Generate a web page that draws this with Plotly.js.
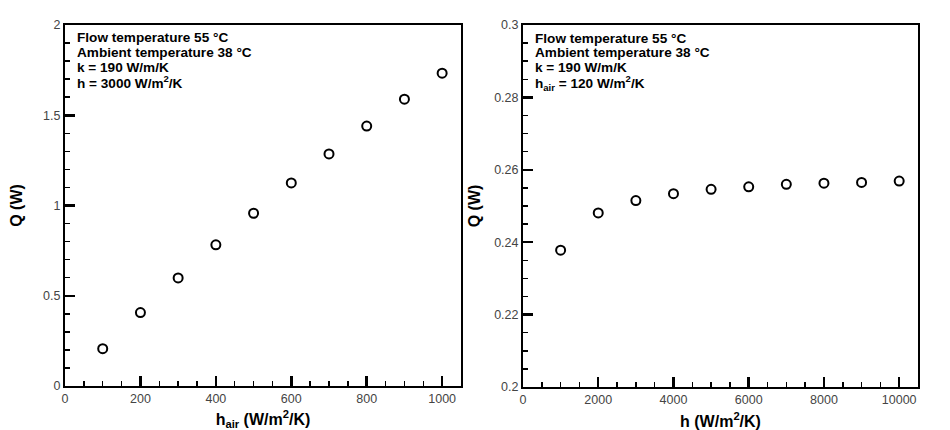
<!DOCTYPE html>
<html>
<head>
<meta charset="utf-8">
<script src="https://cdn.plot.ly/plotly-3.0.1.min.js"></script>
<style>html,body{margin:0;padding:0;background:#fff;}#chart{width:950px;height:430px;}</style>
</head>
<body>
<div id="chart"></div>
<script>
// Left panel: Q vs h_air
var hAir = [100, 200, 300, 400, 500, 600, 700, 800, 900, 1000];
var qLeft = [0.207, 0.407, 0.599, 0.782, 0.957, 1.125, 1.286, 1.440, 1.589, 1.733];
// Right panel: Q vs h
var hWater = [1000, 2000, 3000, 4000, 5000, 6000, 7000, 8000, 9000, 10000];
var qRight = [0.2378, 0.2481, 0.2515, 0.2534, 0.2546, 0.2553, 0.2560, 0.2563, 0.2565, 0.2569];

var leftNote = ["Flow temperature 55 °C", "Ambient temperature 38 °C", "k = 190 W/m/K", "h = 3000 W/m<sup>2</sup>/K"];
var rightNote = ["Flow temperature 55 °C", "Ambient temperature 38 °C", "k = 190 W/m/K", "h<sub>air</sub> = 120 W/m<sup>2</sup>/K"];

var FONT = "Liberation Sans, Arial, sans-serif";
var marker = {symbol: 'circle-open', size: 9, color: '#000', line: {width: 2, color: '#000'}};

var traces = [
  {x: hAir, y: qLeft, type: 'scatter', mode: 'markers', marker: marker, xaxis: 'x', yaxis: 'y'},
  {x: hWater, y: qRight, type: 'scatter', mode: 'markers', marker: marker, xaxis: 'x2', yaxis: 'y2'}
];

var tickFont = {family: FONT, size: 12.5, color: '#444'};
var titleFont = {family: FONT, size: 16, color: '#000', weight: 'bold'};

var annotations = [];
function addNote(lines, xr, yr) {
  for (var i = 0; i < lines.length; i++) {
    annotations.push({xref: xr + ' domain', yref: yr + ' domain', x: 0.025, y: 1 - (13 + 14.8 * i) / 361,
      xanchor: 'left', yanchor: 'middle', align: 'left', showarrow: false, text: lines[i],
      font: {family: FONT, size: 13.6, color: '#000', weight: 'bold'}});
  }
}
addNote(leftNote, 'x', 'y');
addNote(rightNote, 'x2', 'y2');

function ax(o) {
  var a = {showline: true, mirror: true, linewidth: 2, linecolor: 'black',
    ticks: 'inside', ticklen: 10, tickwidth: 2.5, tickcolor: 'black',
    showgrid: false, zeroline: false, tickfont: tickFont};
  for (var k in o) a[k] = o[k];
  a.minor = {dtick: o.mdt, ticks: 'inside', ticklen: 5, tickwidth: 1.5, tickcolor: 'black'};
  delete a.mdt;
  return a;
}

var layout = {
  width: 950, height: 430,
  margin: {l: 0, r: 0, t: 0, b: 0},
  showlegend: false,
  xaxis: ax({domain: [65/950, 461/950], range: [0, 1050], dtick: 200, mdt: 50, anchor: 'y',
    title: {text: 'h<sub>air</sub> (W/m<sup>2</sup>/K)', font: titleFont}}),
  yaxis: ax({domain: [1 - 386/430, 1 - 25/430], range: [0, 2], dtick: 0.5, mdt: 0.1, anchor: 'x',
    title: {text: 'Q (W)', font: titleFont}}),
  xaxis2: ax({domain: [523/950, 918/950], range: [0, 10500], dtick: 2000, mdt: 500, anchor: 'y2', tickformat: 'd',
    title: {text: 'h (W/m<sup>2</sup>/K)', font: titleFont}}),
  yaxis2: ax({domain: [1 - 387/430, 1 - 25/430], range: [0.2, 0.3], dtick: 0.02, mdt: 0.005, anchor: 'x2',
    title: {text: 'Q (W)', font: titleFont}}),
  annotations: annotations
};

Plotly.newPlot('chart', traces, layout, {displayModeBar: false, staticPlot: true});
</script>
</body>
</html>
